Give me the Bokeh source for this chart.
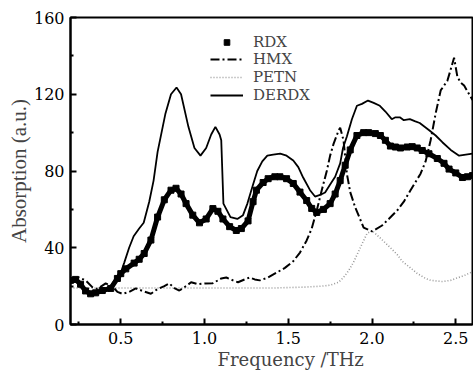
from bokeh.plotting import figure
from bokeh.models import (FixedTicker, Legend, LegendItem, Title, Range1d)
from bokeh.embed import file_html
from bokeh.resources import INLINE

# ---- data ----
rdx_x = [0.20, 0.23, 0.26, 0.29, 0.32, 0.35, 0.39, 0.44, 0.48, 0.50, 0.53, 0.58,
         0.61, 0.64, 0.68, 0.72, 0.76, 0.80, 0.83, 0.86, 0.89, 0.93, 0.97, 1.01,
         1.05, 1.08, 1.11, 1.15, 1.19, 1.22, 1.26, 1.29, 1.31, 1.35, 1.38, 1.42,
         1.45, 1.49, 1.53, 1.57, 1.61, 1.64, 1.67, 1.71, 1.75, 1.78, 1.81, 1.84,
         1.87, 1.91, 1.95, 1.98, 2.02, 2.05, 2.08, 2.11, 2.14, 2.17, 2.21, 2.24,
         2.27, 2.30, 2.34, 2.39, 2.43, 2.46, 2.50, 2.54, 2.57, 2.60]
rdx_y = [23, 23.5, 21, 17.5, 16, 16.5, 17.7, 18.8, 24, 26.5, 29, 32,
         34, 37, 44, 56, 65, 70, 71, 68, 63, 57, 53, 55,
         60.4, 59, 55, 51, 49, 50, 54, 64, 70, 74, 76, 77,
         77, 76, 73.5, 69, 64.6, 60.5, 58.4, 60, 63, 68, 75, 83,
         91, 98.5, 100, 100, 99.5, 98.5, 96, 93, 92.5, 92, 92.5, 92.7,
         92, 90.7, 89, 86.5, 84, 81, 79, 76.6, 77, 77.6]

hmx_x = [0.20, 0.25, 0.29, 0.33, 0.36, 0.41, 0.45, 0.48, 0.51, 0.55, 0.59, 0.63,
         0.68, 0.72, 0.76, 0.79, 0.82, 0.85, 0.89, 0.92, 0.96, 1.00, 1.05, 1.10,
         1.13, 1.17, 1.20, 1.24, 1.27, 1.30, 1.33, 1.38, 1.43, 1.48, 1.53, 1.57,
         1.61, 1.64, 1.67, 1.70, 1.73, 1.75, 1.77, 1.80, 1.81, 1.83, 1.85, 1.87,
         1.90, 1.95, 2.00, 2.06, 2.10, 2.15, 2.19, 2.23, 2.29, 2.32, 2.35, 2.38,
         2.41, 2.45, 2.47, 2.49, 2.51, 2.53, 2.55, 2.58, 2.60]
hmx_y = [24, 24.5, 23, 19.5, 18.5, 21.4, 20, 17, 16, 17, 18.8, 17.5,
         16, 18.5, 20, 21.4, 19, 17.7, 20, 22, 21, 21.4, 21.5, 24,
         24.5, 23, 22, 23.5, 24.5, 23.5, 23, 24.5, 27, 29.5, 33, 37.5,
         43.8, 50, 59.4, 70, 80, 88, 94, 101, 102.6, 96, 78.6, 69,
         61, 50.5, 48.5, 51.6, 55, 59.4, 64, 70, 78.6, 85, 96, 110,
         122, 127, 133, 139, 129, 126, 124.5, 120, 117]

petn_x = [0.20, 0.40, 0.60, 0.80, 1.00, 1.20, 1.40, 1.60, 1.70, 1.75, 1.80, 1.83,
          1.86, 1.89, 1.93, 1.97, 2.00, 2.05, 2.11, 2.15, 2.18, 2.23, 2.27, 2.32,
          2.35, 2.42, 2.47, 2.50, 2.55, 2.60]
petn_y = [19, 19, 19, 19, 19, 19, 19, 19.5, 20, 20.5, 22, 24.5,
          28, 32.5, 40, 47.4, 49, 45, 40, 36.5, 33, 29.5, 26.6, 24,
          23, 22.4, 23, 24, 25.5, 27.5]

derdx_x = [0.44, 0.47, 0.50, 0.52, 0.55, 0.577, 0.61, 0.637, 0.67, 0.696, 0.72, 0.767,
           0.80, 0.833, 0.86, 0.904, 0.94, 0.976, 1.01, 1.04, 1.065, 1.09, 1.10, 1.113,
           1.155, 1.196, 1.23, 1.256, 1.29, 1.315, 1.345, 1.375, 1.41, 1.452, 1.49, 1.53,
           1.56, 1.589, 1.63, 1.66, 1.69, 1.72, 1.75, 1.78, 1.81, 1.827, 1.85, 1.88,
           1.91, 1.94, 1.976, 2.01, 2.047, 2.08, 2.118, 2.14, 2.166, 2.19, 2.226, 2.255,
           2.285, 2.345, 2.38, 2.42, 2.47, 2.52, 2.56, 2.60]
derdx_y = [20, 24, 27, 32, 40, 46, 50, 53, 64, 75, 90, 110,
           120, 123.5, 120, 103, 92, 88, 92, 99, 103, 99, 96, 63,
           56, 55, 57, 63, 73, 80, 85, 88, 88.5, 89, 88, 85.5,
           82, 76.6, 70, 66.7, 67.5, 68.8, 73, 77, 84, 92, 98, 107,
           114, 115, 116.7, 115.5, 114, 111, 107, 108, 108, 106.5, 107, 106,
           105, 101, 98.5, 95, 91, 88, 88.5, 89]

x_ticks = [0.5, 1.0, 1.5, 2.0, 2.5]
x_minor = [0.25, 0.75, 1.25, 1.75, 2.25]
y_ticks = [0, 40, 80, 120, 160]
y_minor = [20, 60, 100, 140]

SERIF = "'DejaVu Serif'"

p = figure(width=473, height=373, output_backend="svg", toolbar_location=None,
           x_range=Range1d(0.2, 2.6), y_range=Range1d(0, 160),
           min_border_left=70, min_border_right=1, min_border_top=17,
           min_border_bottom=49)
p.grid.visible = False
p.outline_line_color = "black"
p.outline_line_width = 2
p.background_fill_color = "white"
p.border_fill_color = "white"

for ax in (p.xaxis[0], p.yaxis[0]):
    ax.axis_line_width = 2
    ax.axis_line_color = "black"
    ax.major_tick_in = 6
    ax.major_tick_out = 0
    ax.minor_tick_in = 3
    ax.minor_tick_out = 0
    ax.major_tick_line_width = 2
    ax.minor_tick_line_width = 2
    ax.major_label_text_font = SERIF
    ax.major_label_text_font_size = "16px"
    ax.major_label_text_font_style = "normal"
    ax.major_label_text_color = "black"

p.xaxis.ticker = FixedTicker(ticks=x_ticks, minor_ticks=x_minor)
p.yaxis.ticker = FixedTicker(ticks=y_ticks, minor_ticks=y_minor)
p.xaxis.major_label_overrides = {t: f"{t:.1f}" for t in x_ticks}
p.xaxis.major_label_standoff = 7
p.yaxis.major_label_standoff = 6

p.yaxis.axis_label = "Absorption (a.u.)"
p.yaxis.axis_label_text_font = "'Liberation Serif'"
p.yaxis.axis_label_text_font_size = "21px"
p.yaxis.axis_label_text_font_style = "normal"
p.yaxis.axis_label_standoff = 0

xlabel = Title(text="Frequency /THz", align="left", offset=147, standoff=0,
               text_font=SERIF, text_font_size="18px", text_font_style="normal")
p.add_layout(xlabel, "below")

# curves
petn = p.line(petn_x, petn_y, line_color="#9a9a9a", line_width=1.6, line_dash="1 2")
hmx = p.line(hmx_x, hmx_y, line_color="black", line_width=2, line_dash="9 3 2 3")
derdx = p.line(derdx_x, derdx_y, line_color="black", line_width=1.8)
p.line(rdx_x, rdx_y, line_color="black", line_width=5)
rdx = p.scatter(rdx_x, rdx_y, marker="square", size=6, fill_color="black",
                line_color="black")

# one legend per row so the row spacing matches the reference
labels = ["RDX", "HMX", "PETN", "DERDX"]
rends = [rdx, hmx, petn, derdx]
row_bottoms = [273.5, 256, 238.5, 220.5]
for lab, r, yb in zip(labels, rends, row_bottoms):
    lg = Legend(items=[LegendItem(label=lab, renderers=[r])],
                location=(140, yb), padding=0, margin=0, spacing=0,
                label_height=14, glyph_height=14, glyph_width=33,
                label_standoff=10, border_line_color=None,
                background_fill_alpha=0, label_text_font_style="normal",
                label_text_font=SERIF, label_text_font_size="15px")
    p.add_layout(lg)

open("out.html", "w").write(file_html(p, INLINE))
